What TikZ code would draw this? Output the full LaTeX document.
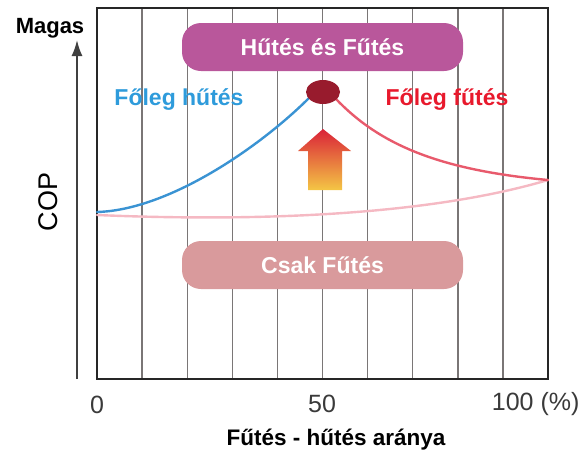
\documentclass[tikz,border=0pt]{standalone}
\usepackage{fontspec}
\setmainfont{Liberation Sans}
\usetikzlibrary{arrows.meta,shapes.geometric}
\definecolor{hybridpill}{HTML}{B9579B}
\definecolor{heatpill}{HTML}{D99A9C}
\definecolor{coolblue}{HTML}{3A93D3}
\definecolor{heatred}{HTML}{E85A6C}
\definecolor{onlypink}{HTML}{F5B9C3}
\definecolor{labelblue}{HTML}{2E9BDB}
\definecolor{labelred}{HTML}{E8192C}
\definecolor{peakred}{HTML}{981B2D}
\definecolor{arrowtop}{HTML}{DA2238}
\definecolor{arrowbot}{HTML}{F4C645}
\definecolor{gridgray}{HTML}{7A7676}
\definecolor{tickgray}{HTML}{3A3A3A}

\begin{document}
\begin{tikzpicture}[x=1pt,y=-1pt,
    gridline/.style={draw=gridgray,line width=1.4pt},
    pill/.style={rounded corners=19pt,minimum width=281pt,minimum height=48pt,
      text=white,font=\fontsize{23}{27}\selectfont\bfseries},
    curve/.style={line width=2.4pt,line cap=round},
    ticklabel/.style={text=tickgray,font=\fontsize{25}{29}\selectfont}]
    \useasboundingbox (0,0) rectangle (586,451);
    % grid and frame
    \foreach \i in {1,...,9}
      \draw [gridline] (97+45.1*\i,8)--(97+45.1*\i,379);
    \draw [line width=2pt,draw=black!85] (97,8) rectangle (548,379);
    \draw [line width=1.8pt,draw=black!75,-{Latex[length=16pt,width=11pt]}] (77,379)--(77,40);
    % boxes
    \node [pill,fill=hybridpill] (hybrid) at (322.5,47) {Hűtés és Fűtés};
    \node [pill,fill=heatpill] (heatonly) at (322.5,265) {Csak Fűtés};
    % curves
    \draw [curve,draw=onlypink] (97,215) .. controls (260,222) and (430,215) .. (548,180);
    \draw [curve,draw=coolblue] (97,212) .. controls (170,210) and (262,145) .. (309,98);
    \draw [curve,draw=heatred] (336,99) .. controls (380,145) and (440,170) .. (548,180);
    \node [ellipse,fill=peakred,minimum width=34pt,minimum height=24pt,inner sep=0pt] (peak) at (323,92) {};
    \shade [top color=arrowtop,bottom color=arrowbot]
      (323,129)--(351,151)--(342,151)--(342,190)--(308,190)--(308,151)--(298,151)--cycle;
    % texts
    \node [text=labelblue,font=\fontsize{23}{27}\selectfont\bfseries] (cooling) at (179,99) {Főleg hűtés};
    \node [text=labelred,font=\fontsize{23}{27}\selectfont\bfseries] (heating) at (447,99) {Főleg fűtés};
    \node [font=\fontsize{22}{26}\selectfont\bfseries] (high) at (50,28) {Magas};
    \node [rotate=90,font=\fontsize{27}{31}\selectfont] (cop) at (48,202) {COP};
    \node [ticklabel] (zero) at (97,405) {0};
    \node [ticklabel] (half) at (322,404) {50};
    \node [ticklabel,anchor=east] (full) at (583,404) {100 (\%)};
    \node [font=\fontsize{22.5}{26}\selectfont\bfseries] (ratio) at (336,440) {Fűtés - hűtés aránya};
  \end{tikzpicture}
\end{document}
